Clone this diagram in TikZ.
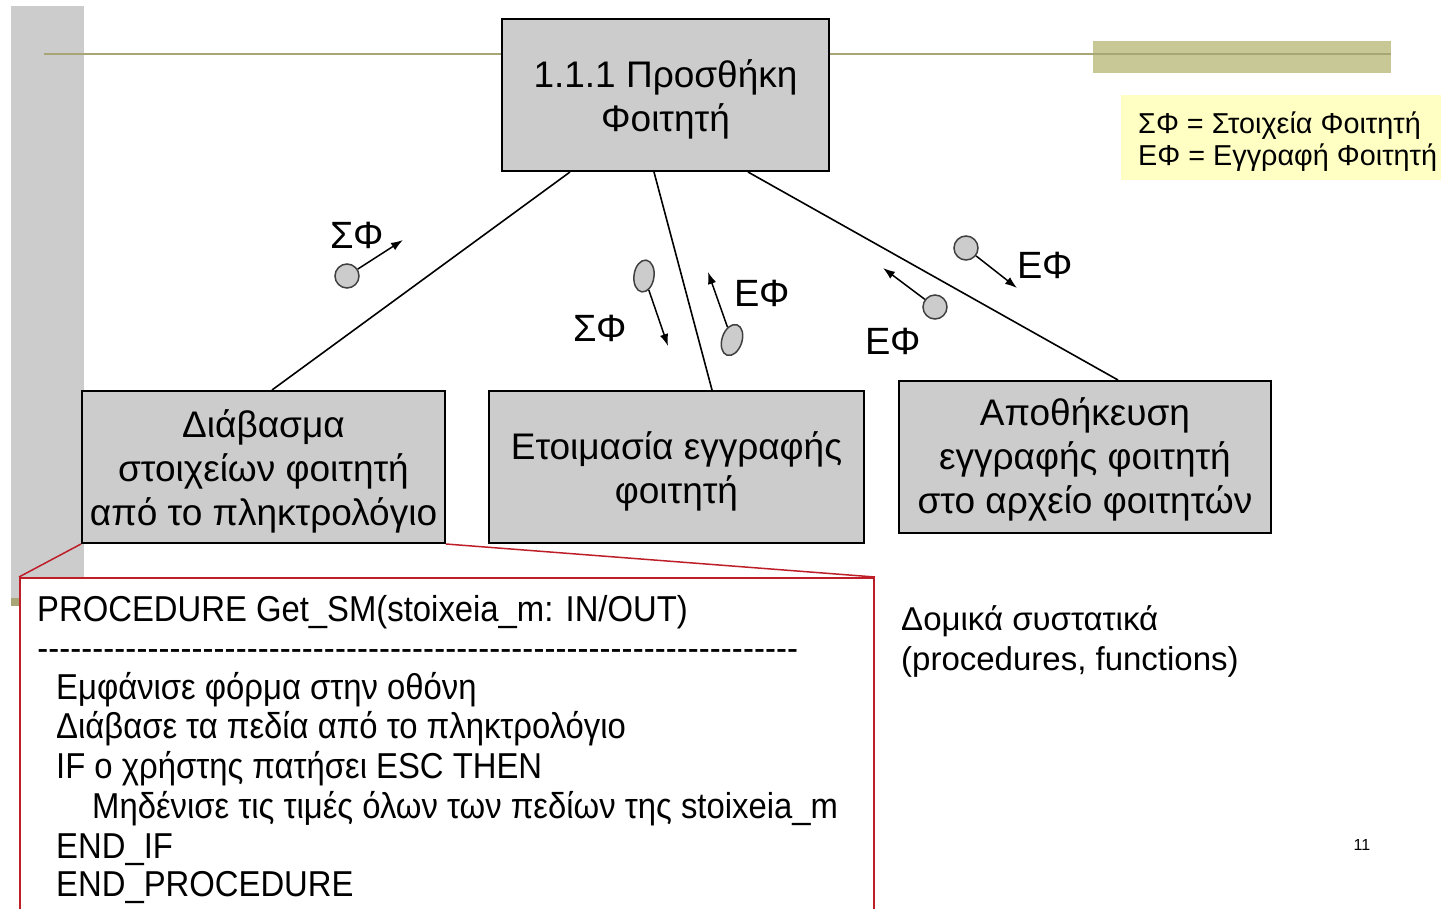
\documentclass[tikz,border=0pt]{standalone}
\usepackage{fontspec}
\setmainfont{Liberation Sans}
\newfontfamily\codefont[FakeStretch=0.912]{Liberation Sans}
\usetikzlibrary{arrows.meta,shapes.geometric}
\definecolor{boxgray}{RGB}{204,204,204}
\definecolor{oliveline}{RGB}{168,166,118}
\definecolor{olivebar}{RGB}{200,200,150}
\definecolor{notey}{RGB}{255,255,196}
\definecolor{codered}{RGB}{190,30,40}
\begin{document}
\begin{tikzpicture}[x=1pt,y=-1pt,
  module/.style={draw=black,line width=2pt,fill=boxgray,inner sep=0pt,
    minimum height=152pt},
  modtext/.style={align=center,font=\fontsize{37}{44}\selectfont,inner sep=0pt},
  link/.style={line width=1.6pt},
  couple/.style={circle,draw=black!75,line width=1.5pt,fill=boxgray,
    minimum size=24pt,inner sep=0pt},
  ecouple/.style={ellipse,draw=black!75,line width=1.5pt,fill=boxgray,
    minimum width=20pt,minimum height=32pt,inner sep=0pt},
  flow/.style={line width=1.5pt,-{Latex[length=12pt,width=8.5pt]}},
  flowlabel/.style={font=\fontsize{38}{44}\selectfont,inner sep=0pt},
  codeline/.style={anchor=base west,inner sep=0pt,
    font=\codefont\fontsize{36}{40}\selectfont},
]
% page and slide decoration
\fill[white] (0,0) rectangle (1441,908);
\clip (0,0) rectangle (1441,908);
\fill[boxgray] (11,6) rectangle (84,598);
\fill[oliveline] (11,598) rectangle (40,606);
\fill[olivebar] (1093,41) rectangle (1391,73);
\draw[oliveline,line width=2pt] (44,54) -- (1391,54);

% structure chart modules
\node[module,minimum width=327pt] (top) at (665.5,95) {};
\node[modtext] (toptxt) at ([yshift=-4pt]top.center) {1.1.1 Προσθήκη\\Φοιτητή};
\node[module,minimum width=363pt] (read) at (263.5,467) {};
\node[modtext] (readtxt) at ([yshift=-4.5pt]read.center)
  {Διάβασμα\\στοιχείων φοιτητή\\από το πληκτρολόγιο};
\node[module,minimum width=375pt] (prep) at (676.5,467) {};
\node[modtext] (preptxt) at ([yshift=-4pt]prep.center)
  {Ετοιμασία εγγραφής\\φοιτητή};
\node[module,minimum width=372pt] (save) at (1085,457) {};
\node[modtext] (savetxt) at ([yshift=-2pt]save.center)
  {Αποθήκευση\\εγγραφής φοιτητή\\στο αρχείο φοιτητών};

\draw[link] ([xshift=-95.5pt]top.south) -- ([xshift=8.5pt]read.north);
\draw[link] ([xshift=-11.5pt]top.south) -- ([xshift=35.5pt]prep.north);
\draw[link] ([xshift=82.5pt]top.south) -- ([xshift=33pt]save.north);

% data couples
\node[couple] (d1) at (347,276) {};
\coordinate (d1t) at (403,240);
\draw[flow] (d1) -- (d1t);
\node[flowlabel] (l1) at (357,235) {ΣΦ};

\node[ecouple,rotate=-8] (d2) at (644,276) {};
\coordinate (d2t) at (668,346);
\draw[flow] (d2) -- (d2t);
\node[flowlabel] (l2) at (600,328) {ΣΦ};

\node[ecouple,rotate=-18] (d3) at (732,340) {};
\coordinate (d3t) at (708,272);
\draw[flow] (d3) -- (d3t);
\node[flowlabel] (l3) at (762,293) {ΕΦ};

\node[couple] (d4) at (966,248) {};
\coordinate (d4t) at (1017,288);
\draw[flow] (d4) -- (d4t);
\node[flowlabel] (l4) at (1045,265) {ΕΦ};

\node[couple] (d5) at (935,307) {};
\coordinate (d5t) at (883,268);
\draw[flow] (d5) -- (d5t);
\node[flowlabel] (l5) at (893,341) {ΕΦ};

% key
\node[fill=notey,anchor=west,minimum width=330pt,minimum height=85pt,
  inner sep=0pt] (key) at (1121,137.5) {};
\node[anchor=west,align=left,inner sep=0pt,font=\fontsize{28.8}{32}\selectfont]
  (keytxt) at ([xshift=17pt,yshift=-4pt]key.west)
  {ΣΦ = Στοιχεία Φοιτητή\\ΕΦ = Εγγραφή Φοιτητή};

% procedure listing callout
\node[draw=codered,line width=2pt,fill=white,minimum width=854pt,
  minimum height=334pt,inner sep=0pt] (code) at (447,745) {};
\draw[codered,line width=1.5pt] (read.south west) -- (code.north west);
\draw[codered,line width=1.5pt] (read.south east) -- (code.north east);

\node[codeline] (c1) at (37,621) {PROCEDURE Get\_SM(stoixeia\_m: IN/OUT)};
\node[codeline] (c2) at (37,660) {\makebox[761pt]{\xleaders\hbox{-}\hfill}};
\node[codeline] (c3) at (56,699) {Εμφάνισε φόρμα στην οθόνη};
\node[codeline] (c4) at (56,738) {Διάβασε τα πεδία από το πληκτρολόγιο};
\node[codeline] (c5) at (56,778) {IF ο χρήστης πατήσει ESC THEN};
\node[codeline] (c6) at (92,818) {Μηδένισε τις τιμές όλων των πεδίων της stoixeia\_m};
\node[codeline] (c7) at (56,858) {END\_IF};
\node[codeline] (c8) at (56,896) {END\_PROCEDURE};

% side note and page number
\node[anchor=west,align=left,inner sep=0pt,font=\fontsize{33}{40}\selectfont]
  (note) at (901,641) {Δομικά συστατικά\\(procedures, functions)};
\node[inner sep=0pt,font=\fontsize{16}{18}\selectfont] (pg) at (1362,845) {11};
\end{tikzpicture}
\end{document}
